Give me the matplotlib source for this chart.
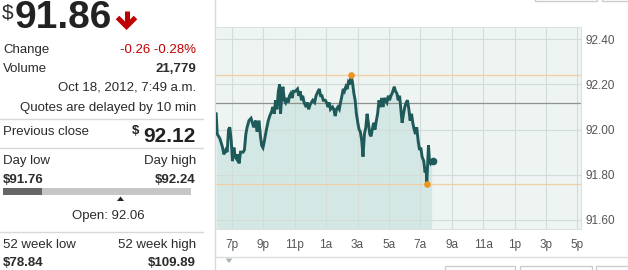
import matplotlib
matplotlib.use("Agg")
import matplotlib.pyplot as plt
import numpy as np
from matplotlib.patches import Rectangle, Polygon

plt.rcParams['font.family'] = ['Liberation Sans', 'DejaVu Sans']

# ---------------- data ----------------
last_price = 91.86
change = "-0.26"
change_pct = "-0.28%"
volume = "21,779"
timestamp = "Oct 18, 2012, 7:49 a.m."
delay_note = "Quotes are delayed by 10 min"
prev_close = 92.12
day_low = 91.76
day_high = 92.24
open_price = 92.06
week52_low = 78.84
week52_high = 109.89

# hours (18 = 6pm, 24 = midnight, 31 = 7am next day)
times = [18.00, 18.07, 18.24, 18.41, 18.49, 18.62, 18.70, 18.79, 18.87, 18.96,
         19.04, 19.13, 19.21, 19.30, 19.38, 19.46, 19.55, 19.72, 19.80, 19.89,
         19.97, 20.09, 20.22, 20.31, 20.39, 20.52, 20.60, 20.73, 20.82, 20.90,
         20.98, 21.07, 21.20, 21.32, 21.41, 21.53, 21.61, 21.70, 21.78, 21.87,
         21.96, 22.04, 22.10, 22.16, 22.25, 22.34, 22.42, 22.50, 22.59, 22.67,
         22.75, 22.84, 22.92, 23.05, 23.18, 23.26, 23.35, 23.43, 23.51, 23.60,
         23.73, 23.81, 23.89, 23.98, 24.06, 24.15, 24.27, 24.36, 24.49, 24.57,
         24.65, 24.74, 24.82, 24.95, 25.03, 25.12, 25.20, 25.28, 25.41, 25.49,
         25.58, 25.66, 25.75, 25.84, 25.92, 26.01, 26.09, 26.17, 26.26, 26.34,
         26.42, 26.51, 26.59, 26.68, 26.77, 26.85, 26.93, 27.02, 27.10, 27.18,
         27.27, 27.35, 27.44, 27.53, 27.61, 27.69, 27.78, 27.86, 27.94, 28.03,
         28.11, 28.20, 28.28, 28.37, 28.45, 28.54, 28.62, 28.70, 28.79, 28.87,
         28.96, 29.04, 29.13, 29.20, 29.34, 29.42, 29.51, 29.59, 29.68, 29.76,
         29.84, 29.93, 30.01, 30.10, 30.18, 30.27, 30.35, 30.44, 30.52, 30.61,
         30.69, 30.77, 30.86, 30.95, 31.03, 31.11, 31.22, 31.30, 31.37, 31.41,
         31.52, 31.58, 31.65, 31.72]

prices = [92.07, 91.98, 91.96, 91.92, 91.89, 91.91, 91.90, 92.00, 92.01, 91.95,
          91.86, 91.92, 91.88, 91.87, 91.89, 91.85, 91.90, 91.90, 91.91, 91.98,
          92.01, 92.04, 92.05, 92.03, 92.01, 92.04, 91.99, 92.04, 91.97, 91.93,
          91.92, 91.95, 92.00, 92.04, 92.06, 92.08, 92.10, 92.07, 92.13, 92.09,
          92.17, 92.20, 92.07, 92.13, 92.19, 92.13, 92.12, 92.14, 92.12, 92.15,
          92.16, 92.14, 92.17, 92.17, 92.18, 92.15, 92.17, 92.13, 92.15, 92.12,
          92.10, 92.12, 92.09, 92.11, 92.12, 92.13, 92.12, 92.15, 92.17, 92.18,
          92.15, 92.15, 92.13, 92.13, 92.12, 92.10, 92.12, 92.09, 92.10, 92.09,
          92.06, 92.09, 92.10, 92.09, 92.12, 92.15, 92.18, 92.17, 92.19, 92.18,
          92.21, 92.20, 92.24, 92.21, 92.16, 92.13, 92.07, 92.03, 92.00, 91.99,
          91.95, 91.88, 91.98, 92.01, 92.07, 92.03, 91.98, 91.97, 92.00, 92.03,
          92.00, 92.04, 92.07, 92.13, 92.10, 92.14, 92.10, 92.14, 92.13, 92.12,
          92.15, 92.13, 92.15, 92.16, 92.19, 92.17, 92.16, 92.13, 92.15, 92.09,
          92.03, 92.07, 92.10, 92.12, 92.13, 92.09, 92.04, 92.07, 92.03, 92.00,
          91.98, 92.01, 91.95, 91.91, 91.92, 91.88, 91.86, 91.81, 91.83, 91.76,
          91.93, 91.86, 91.85, 91.86]

x_ticks = [19, 21, 23, 25, 27, 29, 31, 33, 35, 37, 39, 41]
x_labels = ["7p", "9p", "11p", "1a", "3a", "5a", "7a", "9a", "11a", "1p", "3p", "5p"]
y_ticks = [91.60, 91.80, 92.00, 92.20, 92.40]
y_labels = ["91.60", "91.80", "92.00", "92.20", "92.40"]

# ---------------- figure ----------------
W, H = 628, 270
fig = plt.figure(figsize=(W / 100, H / 100), dpi=100)
fig.patch.set_facecolor("white")

# overlay axes in pixel coordinates for the quote panel
bg = fig.add_axes([0, 0, 1, 1], zorder=0)
bg.set_xlim(0, W)
bg.set_ylim(H, 0)
bg.axis("off")

dark = "#2B2B2B"
red = "#C00000"

# headline price
bg.text(2, 4, "$", fontsize=15, color=dark, va="top", ha="left")
bg.text(15, 28.5, f"{last_price:.2f}", fontsize=28, fontweight="bold", color="#222222",
        va="baseline", ha="left")
# red down arrow
bg.plot([126.5, 126.5], [11, 25], color=red, lw=3.6, solid_capstyle="butt")
bg.plot([117.5, 126.5, 135.5], [17.5, 26.5, 17.5], color=red, lw=3.6,
        solid_joinstyle="miter", solid_capstyle="butt")

fs = 9.5
RX = 196
bg.text(3, 50, "Change", fontsize=fs, color=dark, va="center")
bg.text(RX, 50, f"{change} {change_pct}", fontsize=fs, color=red, va="center", ha="right")
bg.text(3, 69, "Volume", fontsize=fs, color=dark, va="center")
bg.text(RX, 69, volume, fontsize=fs, color=dark, fontweight="bold", va="center", ha="right")
bg.text(RX, 88, timestamp, fontsize=fs, color=dark, va="center", ha="right")
bg.text(RX, 108, delay_note, fontsize=fs, color=dark, va="center", ha="right")

sep = "#D8D8D8"
for yy in (119, 148, 232):
    bg.plot([0, 203], [yy, yy], color=sep, lw=1)

bg.text(3, 132, "Previous close", fontsize=fs, color=dark, va="center")
bg.text(RX, 136, f"{prev_close:.2f}", fontsize=15, fontweight="bold", color="#222222",
        va="center", ha="right")
bg.text(132, 130.5, "$", fontsize=9.5, fontweight="bold", color="#222222", va="center", ha="left")

bg.text(3, 161, "Day low", fontsize=fs, color=dark, va="center")
bg.text(RX, 161, "Day high", fontsize=fs, color=dark, va="center", ha="right")
bg.text(3, 180, f"${day_low:.2f}", fontsize=fs, fontweight="bold", color=dark, va="center")
bg.text(RX, 180, f"${day_high:.2f}", fontsize=fs, fontweight="bold", color=dark,
        va="center", ha="right")

# day range bar
bx0, bx1, by0, by1 = 3, 191, 188, 195
bg.add_patch(Rectangle((bx0, by0), bx1 - bx0, by1 - by0, color="#C6C6C6", lw=0))
frac_last = (last_price - day_low) / (day_high - day_low)
bg.add_patch(Rectangle((bx0, by0), (bx1 - bx0) * frac_last, by1 - by0, color="#666666", lw=0))
frac_open = (open_price - day_low) / (day_high - day_low)
ox = bx0 + (bx1 - bx0) * frac_open
bg.add_patch(Polygon([[ox - 3.5, 201], [ox + 3.5, 201], [ox, 196.5]], closed=True,
                     color="#222222", lw=0))
bg.text(108.5, 216.5, f"Open: {open_price:.2f}", fontsize=fs, color=dark, va="center", ha="center")

bg.text(3, 245, "52 week low", fontsize=fs, color=dark, va="center")
bg.text(RX, 245, "52 week high", fontsize=fs, color=dark, va="center", ha="right")
bg.text(3, 263.5, f"${week52_low:.2f}", fontsize=fs, fontweight="bold", color=dark, va="center")
bg.text(RX, 263.5, f"${week52_high:.2f}", fontsize=fs, fontweight="bold", color=dark,
        va="center", ha="right")

# chart frame decorations
bg.plot([215, 215], [0, H], color="#D9D9D9", lw=1)
bg.plot([215, W], [257, 257], color="#DDDDDD", lw=1)
bg.add_patch(Polygon([[225.5, 258.5], [232.5, 258.5], [229, 263]], closed=True,
                     color="#A8B4B2", lw=0))
for (x0, x1) in ((445, 515), (520, 592), (596, 640)):
    bg.add_patch(Rectangle((x0, 265.5), x1 - x0, 10, fill=False, ec="#CCCCCC", lw=1))
for (x0, x1) in ((535, 597), (602, 640)):
    bg.add_patch(Rectangle((x0, -10), x1 - x0, 10.8, fill=False, ec="#CCCCCC", lw=1))

# ---------------- price chart ----------------
ax = fig.add_axes([216 / W, 1 - 229 / H, 365 / W, 202 / H], zorder=1)
ax.set_facecolor("#EEF4F1")
ymin, ymax = 91.559, 92.455
ax.set_xlim(17.99, 41.23)
ax.set_ylim(ymin, ymax)

ax.fill_between(times, prices, ymin, color="#D3E8E4", lw=0, zorder=1)
ax.set_xticks(x_ticks)
ax.set_xticklabels(x_labels)
ax.set_yticks(y_ticks)
ax.set_yticklabels(y_labels)
ax.yaxis.tick_right()
ax.grid(True, color="#D3DCD8", lw=0.8, zorder=1.5)
ax.set_axisbelow("line")

ax.axhline(prev_close, color="#8E9390", lw=0.9, zorder=1.6)
ax.axhline(day_high, color="#F3CDA2", lw=0.9, zorder=1.6)
ax.axhline(day_low, color="#F3CDA2", lw=0.9, zorder=1.6)

ax.plot(times, prices, color="#1F5A5A", lw=2.1, zorder=2, solid_joinstyle="miter")
i_hi = int(np.argmax(prices))
i_lo = int(np.argmin(prices))
ax.plot(times[i_hi], prices[i_hi], "o", color="#EE9422", ms=4.8, mec="none", zorder=3)
ax.plot(times[i_lo], prices[i_lo], "o", color="#EE9422", ms=4.8, mec="none", zorder=3)
ax.plot(times[-1] + 0.08, prices[-1], "o", color="#1F5A5A", ms=5.5, mec="none", zorder=3)

ax.tick_params(axis="both", length=0, labelsize=8.5, colors="#555555")
ax.tick_params(axis="x", pad=7)
ax.tick_params(axis="y", pad=3)
for s in ax.spines.values():
    s.set_color("#DCE2DF")
    s.set_linewidth(0.8)
ax.spines["left"].set_visible(False)

fig.savefig("out.png", dpi=100, facecolor="white")
